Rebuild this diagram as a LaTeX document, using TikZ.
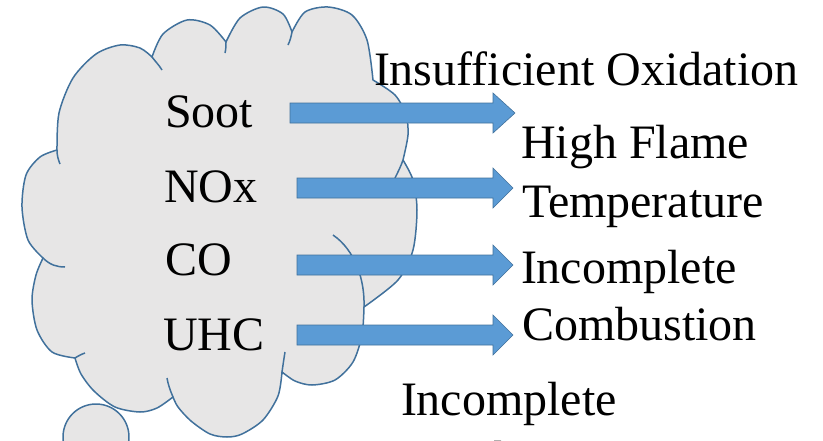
\documentclass[tikz,border=0pt]{standalone}
\usepackage{fontspec}
\setmainfont{Liberation Serif}
\definecolor{cloudfill}{HTML}{E7E6E6}
\definecolor{cloudline}{HTML}{41719C}
\definecolor{arrowfill}{HTML}{5B9BD5}
\tikzset{
  cloudstyle/.style={fill=cloudfill, draw=cloudline, line width=1.5pt, line join=round},
  tailstyle/.style={draw=cloudline, line width=1.5pt},
  blockarrow/.style={fill=arrowfill, draw=cloudline, line width=0.6pt, line join=miter},
  lbl/.style={anchor=base west, inner sep=0pt, outer sep=0pt, font=\fontsize{48}{56}\selectfont}
}
\begin{document}
\begin{tikzpicture}[x=1pt,y=-1pt]
\useasboundingbox (0,0) rectangle (823,440);
% small thought circle
\draw[cloudstyle] (96,437) circle (33);
% cloud body
\draw[cloudstyle]
  plot[smooth] coordinates {(43,258) (28,240) (22,207) (26,175) (40,157) (57,150)}
  -- plot[smooth] coordinates {(57,150) (59,113) (73,78) (96,54) (120,45) (140,48) (152,57)}
  -- plot[smooth] coordinates {(152,57) (163,34) (187,20) (210,25) (226,42)}
  -- plot[smooth] coordinates {(226,42) (240,18) (263,7) (283,14) (292,32)}
  -- plot[smooth] coordinates {(292,32) (305,12) (328,7) (352,15) (367,40) (373,80)}
  -- plot[smooth] coordinates {(373,80) (395,95) (406,115) (408,135) (403,160)}
  -- plot[smooth] coordinates {(403,160) (413,180) (417,210) (413,250) (398,280) (364,307)}
  -- plot[smooth] coordinates {(364,307) (362,335) (353,362) (335,380) (312,385) (295,381) (282,372)}
  -- plot[smooth] coordinates {(282,372) (278,396) (263,420) (242,434) (227,437) (210,434) (191,421) (178,407) (173,397)}
  -- plot[smooth] coordinates {(173,397) (157,408) (140,412) (115,407) (94,391) (81,374) (75,358)}
  -- plot[smooth] coordinates {(75,358) (52,352) (37,330) (32,300) (36,275) (43,258)}
  -- cycle;
% inner tails of the cloud lumps
\draw[tailstyle] (43,258) .. controls (50,265) and (57,267) .. (65,267);
\draw[tailstyle] (57,150) .. controls (57,155) and (58,159) .. (60,164);
\draw[tailstyle] (152,57) .. controls (155,61) and (159,65) .. (162,70);
\draw[tailstyle] (226,42) .. controls (226,45) and (226,49) .. (225,53);
\draw[tailstyle] (292,32) .. controls (291,37) and (290,41) .. (288,45);
\draw[tailstyle] (403,160) .. controls (401,166) and (398,172) .. (395,178);
\draw[tailstyle] (364,307) .. controls (365,280) and (355,250) .. (333,235);
\draw[tailstyle] (282,372) .. controls (283,365) and (284,358) .. (285,352);
\draw[tailstyle] (173,397) .. controls (170,390) and (168,384) .. (167,378);
\draw[tailstyle] (75,358) .. controls (78,356) and (82,354) .. (85,353);
% labels in the cloud
\node[lbl] (soot) at (165,127) {Soot};
\node[lbl] (nox) at (164,202) {NOx};
\node[lbl] (co) at (165,275) {CO};
\node[lbl] (uhc) at (163,350) {UHC};
% block arrows
\draw[blockarrow] (290,103) -- (493,103) -- (493,93) -- (515,113) -- (493,133) -- (493,123) -- (290,123) -- cycle;
\draw[blockarrow] (297,178) -- (493,178) -- (493,168) -- (513,188) -- (493,208) -- (493,198) -- (297,198) -- cycle;
\draw[blockarrow] (297,255) -- (493,255) -- (493,245) -- (513,265) -- (493,285) -- (493,275) -- (297,275) -- cycle;
\draw[blockarrow] (297,325) -- (493,325) -- (493,315) -- (513,335) -- (493,355) -- (493,345) -- (297,345) -- cycle;
% right texts
\node[lbl] (ox) at (374,85) {Insufficient Oxidation};
\node[lbl] (hf) at (521,158) {High Flame};
\node[lbl] (temp) at (522,217) {Temperature};
\node[lbl] (inc1) at (521,283) {Incomplete};
\node[lbl] (comb1) at (522,340) {Combustion};
\node[lbl] (inc2) at (401,415) {Incomplete};
\node[lbl] (comb2) at (401,474) {Combustion};
\end{tikzpicture}
\end{document}
